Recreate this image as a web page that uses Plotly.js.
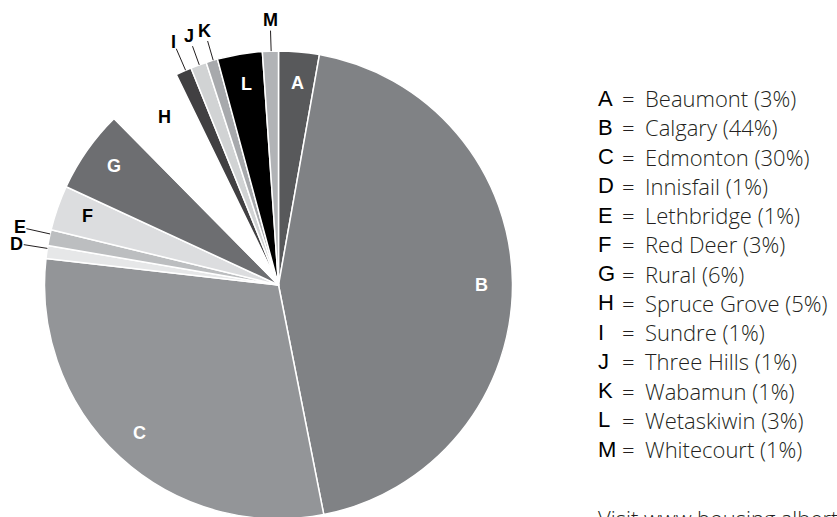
<!DOCTYPE html>
<html><head><meta charset="utf-8">
<script src="https://cdn.plot.ly/plotly-3.0.1.min.js"></script>
<style>html,body{margin:0;padding:0;overflow:hidden;background:#fff}#chart{width:837px;height:520px}</style>
</head><body><div id="chart"></div>
<script>
// ---- data ----
const letters = ['A','B','C','D','E','F','G','H','I','J','K','L','M'];
const cities = ['Beaumont','Calgary','Edmonton','Innisfail','Lethbridge','Red Deer','Rural','Spruce Grove','Sundre','Three Hills','Wabamun','Wetaskiwin','Whitecourt'];
const legendPct = [3,44,30,1,1,3,6,5,1,1,1,3,1];
const sliceValues = [2.8,44.1,29.9,0.9,1.1,3.1,5.7,5.2,1.1,1.1,0.8,3.1,1.1];
const footer = 'Visit www.housing.alberta.ca';

// ---- styles ----
const sliceColors = ['#58595b','#808285','#939598','#e6e7e8','#bcbec0','#dcdddf','#6d6e71','#ffffff','#414042','#d1d3d4','#a7a9ac','#000000','#b1b3b6'];
const outsideLabels = new Set(['D','E','I','J','K','M']);
const darkLabels = new Set(['F','H']);
const W = 837, H = 520, CX = 278.5, CY = 285, R = 234;
const R_IN = 203, R_OUT = 265;
const px2x = p => p / W, py2y = p => 1 - p / H;

const annotations = [];
let cum = 0;
const total = legendPct.reduce((a, b) => a + b, 0);
letters.forEach((L, i) => {
  const mid = (cum + legendPct[i] / 2) / total;
  cum += legendPct[i];
  const th = mid * 2 * Math.PI;
  const s = Math.sin(th), c = Math.cos(th);
  const font = {family: 'Liberation Sans, Arial, sans-serif', size: 18, color: '#000'};
  if (outsideLabels.has(L)) {
    annotations.push({
      xref: 'paper', yref: 'paper',
      x: px2x(CX + R * s), y: py2y(CY - R * c),
      ax: (R_OUT - R) * s, ay: -(R_OUT - R) * c,
      text: '<b>' + L + '</b>', showarrow: true, arrowhead: 0, arrowwidth: 1,
      arrowcolor: '#231f20', standoff: 0, borderpad: 0, font: font
    });
  } else {
    annotations.push({
      xref: 'paper', yref: 'paper',
      x: px2x(CX + R_IN * s), y: py2y(CY - R_IN * c),
      xanchor: 'center', yanchor: 'middle', showarrow: false,
      text: '<b>' + L + '</b>',
      font: Object.assign({}, font, {color: darkLabels.has(L) ? '#000' : '#fff'})
    });
  }
});

const LX = 596, EQX = 620, NX = 643, LY0 = 98, DY = 29.25;
const lightFont = {family: 'Open Sans, Roboto, sans-serif', size: 22, color: '#231f20', weight: 300};
letters.forEach((L, i) => {
  const y = py2y(LY0 + i * DY);
  annotations.push({xref: 'paper', yref: 'paper', x: px2x(LX), y: y, xanchor: 'left', yanchor: 'middle',
    showarrow: false, text: L, font: {family: 'Liberation Sans, Arial, sans-serif', size: 22, color: '#000'}});
  annotations.push({xref: 'paper', yref: 'paper', x: px2x(EQX), y: y, xanchor: 'left', yanchor: 'middle',
    showarrow: false, text: '=', font: lightFont});
  annotations.push({xref: 'paper', yref: 'paper', x: px2x(NX), y: y, xanchor: 'left', yanchor: 'middle',
    showarrow: false, text: cities[i] + ' (' + legendPct[i] + '%)', font: lightFont});
});
annotations.push({xref: 'paper', yref: 'paper', x: px2x(LX), y: py2y(518), xanchor: 'left', yanchor: 'middle',
  showarrow: false, text: footer, font: lightFont});

const trace = {
  type: 'pie', values: sliceValues, labels: letters, sort: false,
  direction: 'clockwise', rotation: 0, textinfo: 'none', hoverinfo: 'label+percent',
  marker: {colors: sliceColors, line: {color: '#ffffff', width: 1.5}},
  domain: {x: [px2x(CX - R), px2x(CX + R)], y: [py2y(CY + R), py2y(CY - R)]},
  showlegend: false
};

Plotly.newPlot('chart', [trace], {
  width: W, height: H, margin: {l: 0, r: 0, t: 0, b: 0},
  paper_bgcolor: '#fff', plot_bgcolor: '#fff', showlegend: false,
  annotations: annotations
}, {displayModeBar: false, staticPlot: true});
</script></body></html>
